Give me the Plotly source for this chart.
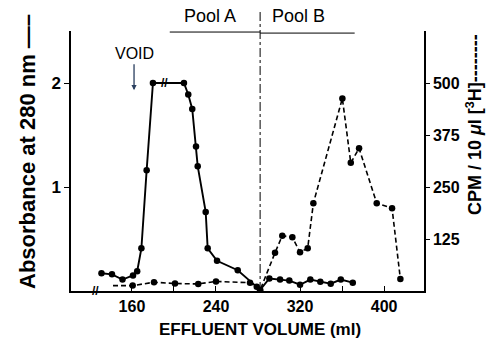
import plotly.graph_objects as go

# Absorbance at 280 nm (solid line)
abs_vol = [131, 141, 151, 161, 165, 169, 174, 180, 209.5, 213.6, 217.4, 221, 222.6, 230.2, 232.1,
           241, 260.7, 278.8, 282, 290.8, 301, 309.8, 320, 329.8, 339.3, 349.2, 358.8, 370.2]
abs_val = [0.17, 0.16, 0.11, 0.15, 0.19, 0.41, 1.16, 2.0, 2.0, 1.89, 1.75, 1.39, 1.20, 0.76, 0.41,
           0.29, 0.20, 0.04, 0.01, 0.12, 0.11, 0.10, 0.06, 0.11, 0.09, 0.07, 0.11, 0.08]

# CPM / 10 ul [3H] (dashed line); the first value is where the curve starts (no marker)
cpm_vol = [142, 160.7, 181, 201, 223.1, 240, 272.4, 282, 296.2, 303.1, 312.7, 320, 327.3, 332.7,
           360.3, 368.3, 376.2, 393, 407.6, 415.5]
cpm_val = [13, 13, 21, 18, 17, 23, 20, 2, 92, 133, 129, 93, 103, 211,
           463, 308, 343, 211, 199, 29]

x_ticks = [160, 240, 320, 400]
x_minor = [200, 280, 360]
abs_ticks = [1, 2]
cpm_ticks = [125, 250, 375, 500]

FONT = "Liberation Sans, Arial, Helvetica, sans-serif"

fig = go.Figure()
fig.add_trace(go.Scatter(
    x=abs_vol, y=abs_val, mode="lines+markers",
    line=dict(color="black", width=1.9),
    marker=dict(color="black", size=6.5, line=dict(width=0)), showlegend=False, yaxis="y"))
fig.add_trace(go.Scatter(
    x=cpm_vol, y=cpm_val, mode="lines",
    line=dict(color="black", width=1.6, dash="5px,3px"),
    showlegend=False, yaxis="y2"))
fig.add_trace(go.Scatter(
    x=cpm_vol[1:], y=cpm_val[1:], mode="markers",
    marker=dict(color="black", size=6.5, opacity=1, line=dict(width=0)),
    showlegend=False, yaxis="y2"))

fig.update_layout(
    width=487, height=344,
    margin=dict(l=71, r=63, t=31, b=53),
    paper_bgcolor="white", plot_bgcolor="white",
    font=dict(family=FONT, color="black"),
    xaxis=dict(range=[102, 438], showgrid=False, zeroline=False,
               showline=True, linecolor="black", linewidth=1.5,
               tickmode="array", tickvals=x_ticks, ticks="inside", ticklen=5,
               tickcolor="black",
               minor=dict(tickmode="array", tickvals=x_minor, ticks="inside",
                          ticklen=5, tickcolor="black"),
               tickfont=dict(size=16, family=FONT, weight="bold")),
    yaxis=dict(range=[0, 2.5], showgrid=False, zeroline=False,
               showline=True, linecolor="black", linewidth=1.5,
               tickmode="array", tickvals=abs_ticks, ticks="outside", ticklen=5,
               tickcolor="black",
               tickfont=dict(size=17, family=FONT, weight="bold")),
    yaxis2=dict(range=[0, 625], overlaying="y", side="right", showgrid=False,
                zeroline=False, showline=True, linecolor="black", linewidth=1.5,
                tickmode="array", tickvals=cpm_ticks, ticks="outside", ticklen=4,
                tickcolor="black",
                tickfont=dict(size=16, family=FONT, weight="bold")),
)

# vertical dash-dot divider
fig.add_shape(type="line", xref="x", yref="paper", x0=282, x1=282, y0=0, y1=1.073,
              line=dict(color="black", width=1, dash="dashdot"))
# pool bars
fig.add_shape(type="line", xref="x", yref="paper", x0=196, x1=282, y0=0.996, y1=0.996,
              line=dict(color="black", width=1))
fig.add_shape(type="line", xref="x", yref="paper", x0=282, x1=372, y0=0.992, y1=0.992,
              line=dict(color="black", width=1))

ann = [
    dict(x=234, y=1.01, xref="x", yref="paper", text="Pool A", showarrow=False,
         xanchor="center", yanchor="bottom", font=dict(size=18, family=FONT)),
    dict(x=319, y=1.01, xref="x", yref="paper", text="Pool B", showarrow=False,
         xanchor="center", yanchor="bottom", font=dict(size=18, family=FONT)),
    dict(x=162, y=1.93, xref="x", yref="y", text="VOID", showarrow=True,
         arrowhead=2, arrowsize=0.8, arrowwidth=1.3, ax=0, ay=-26, yanchor="bottom",
         font=dict(size=16, family=FONT)),
    dict(x=191.4, y=2.0, xref="x", yref="y", text="//", showarrow=False,
         font=dict(size=12, family=FONT, weight="bold")),
    dict(x=125, y=0, xref="x", yref="y", text="//", showarrow=False,
         font=dict(size=12, family=FONT, weight="bold")),
    dict(x=0.535, y=-0.148, xref="paper", yref="paper", text="EFFLUENT VOLUME (ml)",
         showarrow=False, xanchor="center", yanchor="middle",
         font=dict(size=17, family=FONT, weight="bold")),
    dict(x=-0.125, y=0.538, xref="paper", yref="paper", text="Absorbance at 280 nm —–",
         showarrow=False, textangle=-90, xanchor="center", yanchor="middle",
         font=dict(size=22, family=FONT, weight="bold")),
    dict(x=1.143, y=0.64, xref="paper", yref="paper",
         text="CPM / 10 <i>μ</i>l [<sup>3</sup>H]--------",
         showarrow=False, textangle=-90, xanchor="center", yanchor="middle",
         font=dict(size=18, family=FONT, weight="bold")),
]
fig.update_layout(annotations=ann)

fig.write_html("out.html")
